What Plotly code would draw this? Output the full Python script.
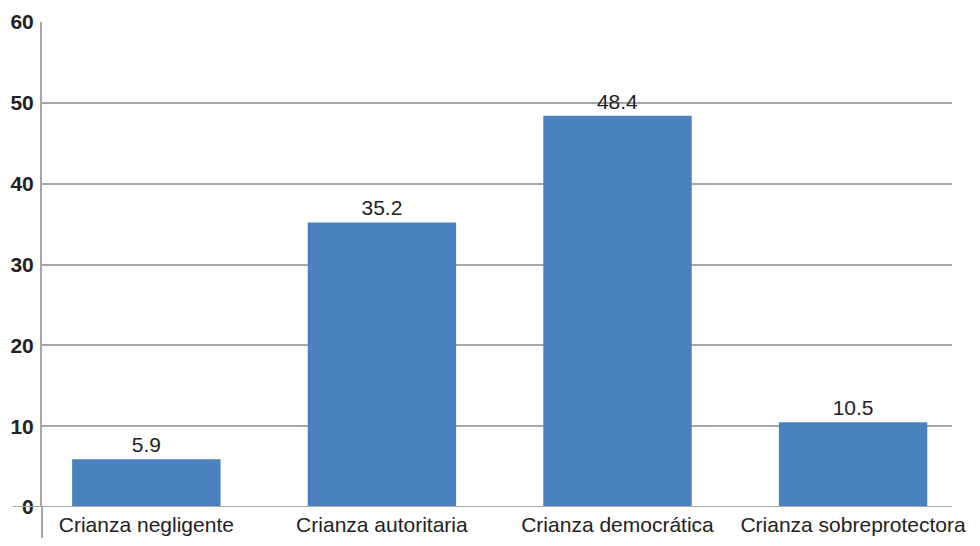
import plotly.graph_objects as go

categories = ["Crianza negligente", "Crianza autoritaria", "Crianza democrática", "Crianza sobreprotectora"]
values = [5.9, 35.2, 48.4, 10.5]
value_labels = ["5.9", "35.2", "48.4", "10.5"]
y_ticks = [0, 10, 20, 30, 40, 50, 60]

FONT = "Liberation Sans, Arial, sans-serif"
GRID = "#a6a6a6"
TXT = "#222222"

fig = go.Figure()
fig.add_trace(go.Bar(
    x=list(range(len(categories))),
    y=values,
    text=value_labels,
    textposition="outside",
    textfont=dict(family=FONT, size=21, color=TXT),
    marker=dict(color="#4A81BF", line=dict(width=0)),
    width=0.63,
    cliponaxis=False,
))

fig.update_layout(
    width=964, height=530,
    margin=dict(l=34, r=20, t=14, b=31),
    paper_bgcolor="white", plot_bgcolor="white",
    showlegend=False,
    xaxis=dict(
        tickmode="array",
        tickvals=list(range(len(categories))),
        ticktext=categories,
        range=[-0.443, 3.42],
        showgrid=False, zeroline=False, showline=False,
        automargin=False, ticklabeloverflow="allow",
        ticks="", ticklabelstandoff=3,
        tickfont=dict(family=FONT, size=21, color=TXT),
    ),
    yaxis=dict(
        range=[0, 60],
        tickvals=y_ticks,
        showgrid=True, gridcolor=GRID, gridwidth=2,
        zeroline=False, automargin=False,
        showline=True, linecolor=GRID, linewidth=2,
        ticks="", ticklabelstandoff=2,
        ticklabeloverflow="allow",
        tickfont=dict(family=FONT, size=21, color=TXT, weight="bold"),
    ),
    shapes=[
        dict(type="line", xref="paper", yref="y", x0=-0.032, x1=1.0, y0=0, y1=0,
             line=dict(color=GRID, width=2), layer="above"),
        dict(type="line", xref="paper", yref="paper", x0=0, x1=0, y0=0, y1=-0.1,
             line=dict(color=GRID, width=2)),
    ],
)

fig.write_html("out.html")
